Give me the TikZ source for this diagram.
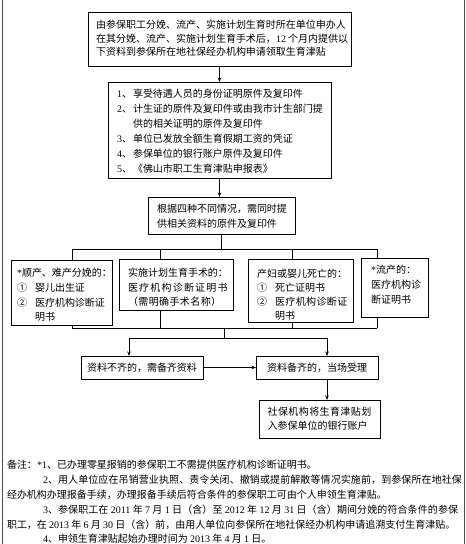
\documentclass[tikz,border=0pt]{standalone}
\usepackage{fontspec}
\setmainfont{Noto Sans CJK SC}
\newfontfamily\lat{Liberation Serif}
\newfontfamily\cjkls[LetterSpace=12]{Noto Sans CJK SC}
\newfontfamily\cjklt[LetterSpace=4]{Noto Sans CJK SC}
\newfontfamily\cjknote[LetterSpace=1]{Noto Sans CJK SC}
\usetikzlibrary{arrows.meta,shadows,calc}
\begin{document}
\begin{tikzpicture}[x=1pt,y=-1pt,
  box/.style={draw=black, line width=0.7pt, fill=white, outer sep=0pt, inner sep=0pt},
  shbox/.style={box, drop shadow={shadow xshift=1.2pt, shadow yshift=-1.2pt, fill=black!80, opacity=1}},
  txt/.style={inner sep=0pt, outer sep=0pt, align=left, anchor=west, font=\fontsize{10}{15}\selectfont},
  conn/.style={draw=black, line width=0.7pt},
  arr/.style={conn, -{Stealth[length=4.5pt,width=3.5pt]}},
  frame/.style={draw=black!70, line width=1pt}
]
\useasboundingbox (0,0) rectangle (466,544);
\draw[frame] (2,0) -- (2,544);
\draw[frame] (464,0) -- (464,544);

% top boxes
\node[box, minimum width=263pt, minimum height=54pt] (b1) at (219.5,39) {};
\node[txt, font=\fontsize{10}{13.5}\selectfont] (b1t) at (96,38.5)
  {由参保职工分娩、流产、实施计划生育时所在单位申办人\\
   在其分娩、流产、实施计划生育手术后，{\lat 12} 个月内提供以\\
   下资料到参保所在地社保经办机构申请领取生育津贴};

\node[box, minimum width=223pt, minimum height=96pt] (b2) at (219.5,130) {};
\node[txt] (b2t) at (117,131.5)
  {\makebox[16pt][l]{{\lat 1}、}享受待遇人员的身份证明原件及复印件\\
   \makebox[16pt][l]{{\lat 2}、}计生证的原件及复印件或由我市计生部门提\\
   \hspace*{16pt}供的相关证明的原件及复印件\\
   \makebox[16pt][l]{{\lat 3}、}单位已发放全额生育假期工资的凭证\\
   \makebox[16pt][l]{{\lat 4}、}参保单位的银行账户原件及复印件\\
   \makebox[16pt][l]{{\lat 5}、}《佛山市职工生育津贴申报表》};

\node[box, minimum width=147pt, minimum height=37pt] (b3) at (221.5,215.5) {};
\node[txt] (b3t) at (157,216.5)
  {根据四种不同情况，需同时提\\供相关资料的原件及复印件};

% four case boxes
\node[shbox, minimum width=101pt, minimum height=65pt] (A) at (61.5,292.5) {};
\node[txt, font=\fontsize{10}{14.7}\selectfont] (At) at (17,295)
  {{\lat *}顺产、难产分娩的：\\
   \makebox[18pt][l]{①}婴儿出生证\\
   \makebox[18pt][l]{②}医疗机构诊断证\\
   \hspace*{18pt}明书};

\node[shbox, minimum width=114pt, minimum height=51pt] (B) at (176,284.5) {};
\node[txt, font=\fontsize{10}{14.5}\selectfont] (Bt) at (128,287.5)
  {实施计划生育手术的：\\
   {\cjkls 医疗机构诊断证明书}\\
   {\cjklt （需明确手术名称）}};

\node[box, minimum width=105pt, minimum height=63pt] (C) at (300.5,290.5) {};
\node[txt, font=\fontsize{10}{14}\selectfont] (Ct) at (257,295)
  {产妇或婴儿死亡的：\\
   \makebox[18pt][l]{①}死亡证明书\\
   \makebox[18pt][l]{②}{\cjklt 医疗机构诊断证}\\
   \hspace*{18pt}明书};

\node[shbox, minimum width=67pt, minimum height=59pt] (D) at (394.5,287.5) {};
\node[txt] (Dt) at (371,285)
  {{\lat *}流产的：\\医疗机构诊\\断证明书};

% result boxes
\node[box, minimum width=122pt, minimum height=23pt, font=\fontsize{10}{12}\selectfont] (F) at (142,367.5) {资料不齐的，需备齐资料};
\node[box, minimum width=122pt, minimum height=23pt, font=\fontsize{10}{12}\selectfont] (G) at (317,367.5) {资料备齐的，当场受理};
\node[shbox, minimum width=121pt, minimum height=38pt, align=left, font=\fontsize{10}{14}\selectfont] (H) at (319.5,419)
  {{\cjklt 社保机构将生育津贴划}\\入参保单位的银行账户};

% connectors
\draw[arr] (b1.south) -- (b2.north);
\draw[arr] (b2.south) -- (b2.south |- b3.north);

\coordinate (tA) at (72,249);
\coordinate (tB) at (160,249);
\coordinate (tC) at (292,249);
\coordinate (tD) at (377,249);
\draw[conn] (b3.south) -- (b3.south |- tA);
\draw[conn] (tA) -- (tD);
\draw[conn] (tA) -- (tA |- A.north);
\draw[conn] (tB) -- (tB |- B.north);
\draw[conn] (tC) -- (tC |- C.north);
\draw[conn] (tD) -- (tD |- D.north);

\coordinate (bA) at (72,328);
\coordinate (bD) at (377,328);
\coordinate (jB) at (224,328);
\coordinate (jC) at (224,338);
\coordinate (fL) at (129,338);
\coordinate (fR) at (327,338);
\draw[conn] (tA |- A.south) -- (bA);
\draw[conn] (tB |- B.south) -- (tB |- bA);
\draw[conn] (tC |- C.south) -- (tC |- bA);
\draw[conn] (tD |- D.south) -- (bD);
\draw[conn] (bA) -- (bD);
\draw[conn] (jB) -- (jC);
\draw[conn] (fL) -- (fR);
\draw[arr] (fL) -- (fL |- F.north);
\draw[arr] (fR) -- (fR |- G.north);
\draw[arr] (F.east) -- (G.west);
\draw[arr] (fR |- G.south) -- (fR |- H.north);

% notes
\node[txt] (n1) at (7,465) {备注：{\lat *1}、已办理零星报销的参保职工不需提供医疗机构诊断证明书。};
\node[txt] (n2) at (43,480) {\cjknote{\lat 2}、用人单位应在吊销营业执照、责令关闭、撤销或提前解散等情况实施前，到参保所在地社保};
\node[txt] (n3) at (7,495) {经办机构办理报备手续，办理报备手续后符合条件的参保职工可由个人申领生育津贴。};
\node[txt] (n4) at (43,510) {\cjknote{\lat 3}、参保职工在 {\lat 2011} 年 {\lat 7} 月 {\lat 1} 日（含）至 {\lat 2012} 年 {\lat 12} 月 {\lat 31} 日（含）期间分娩的符合条件的参保};
\node[txt] (n5) at (7,525) {职工，在 {\lat 2013} 年 {\lat 6} 月 {\lat 30} 日（含）前，由用人单位向参保所在地社保经办机构申请追溯支付生育津贴。};
\node[txt] (n6) at (43,539) {{\lat 4}、申领生育津贴起始办理时间为 {\lat 2013} 年 {\lat 4} 月 {\lat 1} 日。};
\end{tikzpicture}
\end{document}
